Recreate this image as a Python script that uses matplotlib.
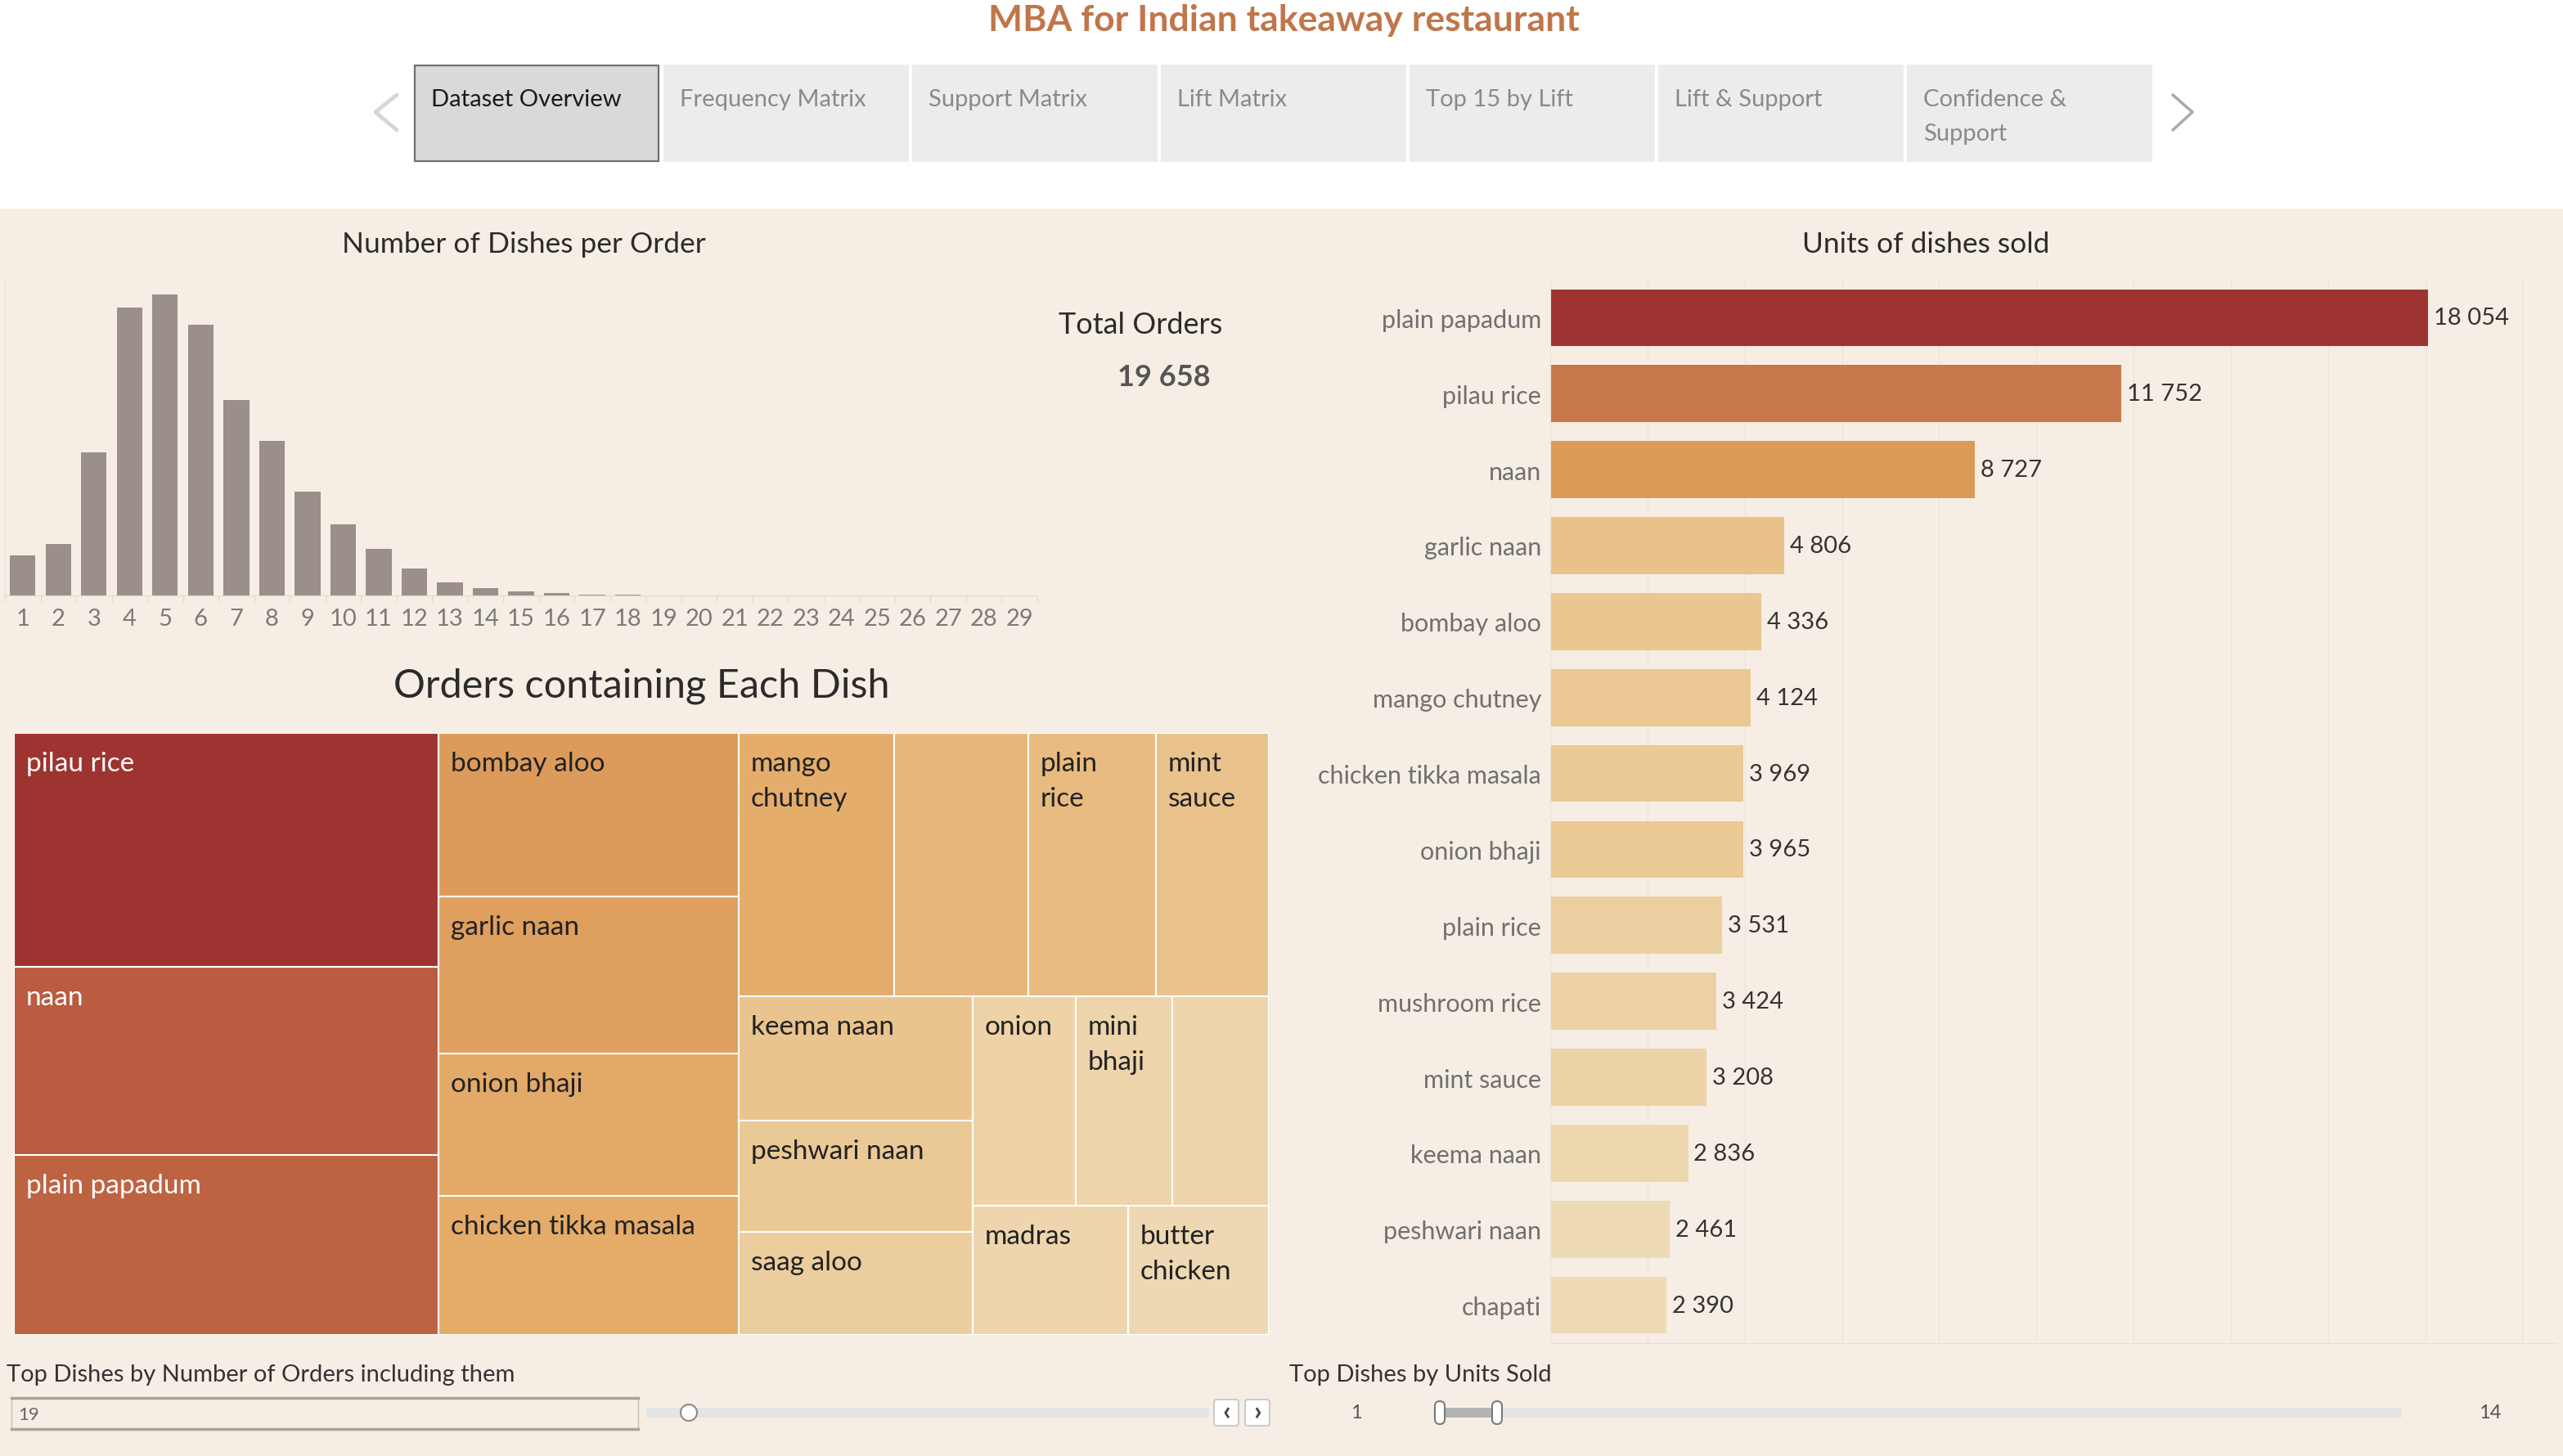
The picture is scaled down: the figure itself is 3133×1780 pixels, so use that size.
import matplotlib
matplotlib.use('Agg')
import matplotlib.pyplot as plt
from matplotlib.patches import Rectangle, FancyBboxPatch, Circle
from matplotlib.colors import LinearSegmentedColormap, Normalize, to_rgb
import numpy as np

plt.rcParams['font.family'] = ['Lato', 'DejaVu Sans']

# ---- data ----
title = 'MBA for Indian takeaway restaurant'
tab_names = ['Dataset Overview', 'Frequency Matrix', 'Support Matrix', 'Lift Matrix',
             'Top 15 by Lift', 'Lift & Support', 'Confidence &\nSupport']

dishes_per_order = list(range(1, 30))
orders_per_size = [454, 588, 1634, 3282, 3434, 3095, 2236, 1768, 1184, 812, 530, 306,
                   153, 81, 48, 24, 9, 5, 3, 2, 2, 1, 1, 1, 1, 1, 1, 1, 1]

tree_dishes = ['pilau rice', 'naan', 'plain papadum', 'bombay aloo', 'garlic naan',
               'onion bhaji', 'chicken tikka masala', 'mango chutney', 'mushroom rice',
               'plain rice', 'mint sauce', 'keema naan', 'peshwari naan', 'saag aloo',
               'onion', 'mini bhaji', 'chapati', 'madras', 'butter chicken']
orders_with_dish = [8110, 6520, 6240, 4000, 3840, 3480, 3400, 3340, 2885, 2745, 2425,
                    2375, 2125, 1970, 1760, 1655, 1648, 1640, 1485]

units_dishes = ['plain papadum', 'pilau rice', 'naan', 'garlic naan', 'bombay aloo',
                'mango chutney', 'chicken tikka masala', 'onion bhaji', 'plain rice',
                'mushroom rice', 'mint sauce', 'keema naan', 'peshwari naan', 'chapati']
units_sold = [18054, 11752, 8727, 4806, 4336, 4124, 3969, 3965, 3531, 3424, 3208,
              2836, 2461, 2390]

top_by_orders = 19
units_range = (1, 14)

# ---- page ----
W, H = 3133, 1781
fig = plt.figure(figsize=(W / 100, H / 100), dpi=100)
fig.patch.set_facecolor('white')

BEIGE = '#f6eee4'

def px_axes(x0, y0, x1, y1, **kw):
    """axes from pixel box (top-left origin)"""
    return fig.add_axes([x0 / W, 1 - y1 / H, (x1 - x0) / W, (y1 - y0) / H], **kw)

def fmt(v):
    return f'{v:,}'.replace(',', ' ')

canvas = px_axes(0, 0, W, H)
canvas.set_xlim(0, W)
canvas.set_ylim(H, 0)
canvas.axis('off')
canvas.set_zorder(0)
canvas.add_patch(Rectangle((0, 256), W, H - 256, color=BEIGE, lw=0))

canvas.text(1569, 25, title, ha='center', va='center', fontsize=32,
            fontweight='bold', color='#c0764a')

# tabs
for i, name in enumerate(tab_names):
    x0 = 507 + i * 304 if i else 507
    w = 298 if i == 0 else 300
    if i == 0:
        canvas.add_patch(Rectangle((x0, 81), w, 117, facecolor='#d9d9d9',
                                   edgecolor='#707070', lw=1.6))
        col = '#1a1a1a'
    else:
        canvas.add_patch(Rectangle((x0, 80), w, 119, facecolor='#ececec', lw=0))
        col = '#8a8a8a'
    canvas.text(x0 + 20, 109, name, ha='left', va='top', fontsize=21, color=col,
                linespacing=1.75)
canvas.plot([485, 459, 485], [117, 138, 160], color='#d6d6d6', lw=3.5,
            solid_capstyle='round', solid_joinstyle='round')
canvas.plot([2656, 2680, 2656], [117, 138, 160], color='#a8a8a8', lw=2.5,
            solid_capstyle='round', solid_joinstyle='round')

# section titles
canvas.text(640, 299, 'Number of Dishes per Order', ha='center', va='center',
            fontsize=25.5, color='#2b2b2b')
canvas.text(2354, 299, 'Units of dishes sold', ha='center', va='center',
            fontsize=25.5, color='#2b2b2b')
canvas.text(784, 839, 'Orders containing Each Dish', ha='center', va='center',
            fontsize=35, color='#2b2b2b')

# total orders KPI
canvas.text(1394, 397, 'Total Orders', ha='center', va='center', fontsize=26,
            color='#2b2b2b')
canvas.text(1423, 461, fmt(sum(orders_per_size)), ha='center', va='center',
            fontsize=26, fontweight='bold', color='#555555')

# ---- histogram ----
ax1 = px_axes(6, 343, 1268, 729)
ax1.set_facecolor('none')
ax1.bar(dishes_per_order, orders_per_size, width=0.72, color='#9a8f8b')
ax1.set_xlim(0.5, 29.5)
ax1.set_ylim(0, 3604)
ax1.set_yticks([])
ax1.set_xticks(dishes_per_order)
ax1.set_xticklabels([str(d) for d in dishes_per_order], fontsize=21, color='#7a7a7a')
ax1.set_xticks(np.arange(0.5, 30, 1), minor=True)
ax1.tick_params(axis='x', which='major', length=0, pad=11)
ax1.tick_params(axis='x', which='minor', length=6, color='#e2dbd2', width=1)
for s in ['top', 'right']:
    ax1.spines[s].set_visible(False)
ax1.spines['bottom'].set_color('#e2dbd2')
ax1.spines['left'].set_color('#ece5dc')

# ---- treemap ----
def worst(row, side):
    t = sum(row) / side
    return max(max(t / (a / t), (a / t) / t) for a in row)

def squarify(values, x, y, w, h, limit=3.0):
    total = sum(values)
    areas = [v * w * h / total for v in values]
    rects = []
    i = 0
    while i < len(areas):
        side = min(w, h)
        row = [areas[i]]
        j = i + 1
        while j < len(areas):
            new = worst(row + [areas[j]], side)
            if new <= worst(row, side) or new <= limit:
                row.append(areas[j])
                j += 1
            else:
                break
        thick = sum(row) / side
        if w >= h:
            yy = y
            for a in row:
                rects.append((x, yy, thick, a / thick))
                yy += a / thick
            x += thick
            w -= thick
        else:
            xx = x
            for a in row:
                rects.append((xx, y, a / thick, thick))
                xx += a / thick
            y += thick
            h -= thick
        i = j
    return rects

TW, TH = 1534, 736
ax2 = px_axes(17, 897, 17 + TW, 897 + TH)
ax2.set_xlim(0, TW)
ax2.set_ylim(TH, 0)
ax2.axis('off')

tree_cmap = LinearSegmentedColormap.from_list('tree', [
    (0.0, '#f0e0c2'), (0.18, '#eed8b3'), (0.22, '#edd2a6'), (0.29, '#eac48e'),
    (0.41, '#e5ad6b'), (0.49, '#dd9c5b'), (0.77, '#be6341'), (1.0, '#9e3431')])
tnorm = Normalize(0, max(orders_with_dish))

renderer = fig.canvas.get_renderer()
LBL = 24
pad = 15

def width_of(s):
    t = ax2.text(0, 0, s, fontsize=LBL)
    wd = t.get_window_extent(renderer).width
    t.remove()
    return wd

for name, v, (x, y, w, h) in zip(tree_dishes, orders_with_dish,
                                  squarify(orders_with_dish, 0, 0, TW, TH)):
    c = tree_cmap(tnorm(v))
    ax2.add_patch(Rectangle((x, y), w, h, facecolor=c, edgecolor='white', lw=1.5))
    r, g, b = to_rgb(c)
    tc = 'white' if 0.299 * r + 0.587 * g + 0.114 * b < 0.55 else '#222222'
    # wrap label to the cell width, drop it if a word does not fit
    lines = []
    ok = True
    for word in name.split():
        if lines and width_of(lines[-1] + ' ' + word) + 2 * pad <= w:
            lines[-1] += ' ' + word
        elif width_of(word) + 2 * pad <= w:
            lines.append(word)
        else:
            ok = False
            break
    if ok:
        ax2.text(x + pad, y + 22, '\n'.join(lines), ha='left', va='top',
                 fontsize=LBL, color=tc, linespacing=1.55)

# ---- units sold bars ----
ax3 = px_axes(1895, 343, 3125, 1643)
ax3.set_facecolor('none')
bar_cmap = LinearSegmentedColormap.from_list('bars', [
    (0.0, '#f0e2c6'), (0.13, '#eedbb6'), (0.18, '#edd3a7'), (0.22, '#ebc995'),
    (0.27, '#e9c18a'), (0.48, '#dc9a58'), (0.65, '#c6784d'), (1.0, '#9e3431')])
bnorm = Normalize(0, max(units_sold))
ypos = np.arange(len(units_dishes))
ax3.barh(ypos, units_sold, height=0.75, color=[bar_cmap(bnorm(v)) for v in units_sold],
         zorder=2)
for yy, v in zip(ypos, units_sold):
    ax3.annotate(fmt(v), (v, yy), xytext=(5, 0), textcoords='offset points',
                 ha='left', va='center', fontsize=21, color='#333333')
ax3.set_xlim(0, 20700)
ax3.set_ylim(len(units_dishes) - 0.5, -0.5)
ax3.set_xticks(np.arange(2000, 20001, 2000))
ax3.set_xticklabels([])
ax3.tick_params(axis='x', length=0)
ax3.grid(axis='x', color='#ece4d9', lw=1, zorder=0)
ax3.set_yticks(ypos)
ax3.set_yticklabels(units_dishes, fontsize=22, color='#707070')
ax3.tick_params(axis='y', length=0, pad=8)
for s in ['top', 'right']:
    ax3.spines[s].set_visible(False)
ax3.spines['bottom'].set_color('#e6ded3')
ax3.spines['left'].set_color('#ece4d9')

# ---- filter widgets ----
canvas.text(8, 1681, 'Top Dishes by Number of Orders including them', ha='left',
            va='center', fontsize=21, color='#333333')
canvas.add_patch(Rectangle((14, 1710), 766, 38, facecolor=BEIGE, edgecolor='#c9c2b8',
                           lw=1))
canvas.plot([14, 780], [1710, 1710], color='#a8a29a', lw=2.5)
canvas.plot([14, 780], [1748, 1748], color='#a8a29a', lw=2.5)
canvas.text(22, 1730, str(top_by_orders), ha='left', va='center', fontsize=16,
            color='#666666')
canvas.add_patch(Rectangle((790, 1722), 688, 12, color='#e4e4e4', lw=0))
canvas.add_patch(Circle((842, 1728), 10, facecolor='white', edgecolor='#8a8a8a', lw=1.5))
for bx, sym in [(1484, '\u2039'), (1522, '\u203a')]:
    canvas.add_patch(FancyBboxPatch((bx, 1712), 30, 32, boxstyle='round,pad=0,rounding_size=3',
                                    facecolor='white', edgecolor='#cccccc', lw=1.5))
    canvas.text(bx + 15, 1727, sym, ha='center', va='center', fontsize=24,
                color='#3d4654', fontweight='bold')

canvas.text(1576, 1681, 'Top Dishes by Units Sold', ha='left', va='center',
            fontsize=21, color='#333333')
canvas.text(1658, 1728, str(units_range[0]), ha='center', va='center', fontsize=17,
            color='#555555')
canvas.text(3044, 1728, str(units_range[1]), ha='center', va='center', fontsize=17,
            color='#555555')
canvas.add_patch(Rectangle((1752, 1722), 1184, 12, color='#e4e4e4', lw=0))
canvas.add_patch(Rectangle((1760, 1722), 70, 12, color='#b3b3b3', lw=0))
for kx in (1760, 1830):
    canvas.add_patch(FancyBboxPatch((kx - 6, 1714), 12, 28,
                                    boxstyle='round,pad=0,rounding_size=6',
                                    facecolor='white', edgecolor='#7a7a7a', lw=1.5))

fig.savefig('out.png', dpi=100, facecolor=fig.get_facecolor())
